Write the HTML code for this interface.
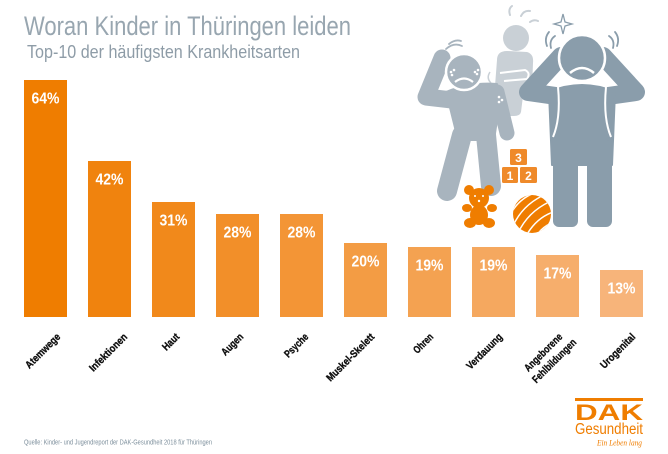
<!DOCTYPE html>
<html><head><meta charset="utf-8"><style>
html,body{margin:0;padding:0;background:#fff;}
svg{display:block;}
</style></head><body>
<svg width="668" height="454" viewBox="0 0 668 454" xmlns="http://www.w3.org/2000/svg">
<rect width="668" height="454" fill="#fff"/>
<!-- Title -->
<text x="24" y="35" font-family="Liberation Sans, sans-serif" font-size="27" fill="#98a6b0" textLength="327" lengthAdjust="spacingAndGlyphs">Woran Kinder in Thüringen leiden</text>
<text x="27" y="58" font-family="Liberation Sans, sans-serif" font-size="18" fill="#8e9ca7" textLength="273" lengthAdjust="spacingAndGlyphs">Top-10 der häufigsten Krankheitsarten</text>

<!-- Illustration -->
<g>
  <!-- middle figure -->
  <g fill="#c9d0d6">
    <circle cx="516" cy="38" r="13"/>
    <path d="M497,60 Q497,51 507,51 L527,52 Q534,54 533,63 L532,88 Q530,95 523,96 L521,112 Q520,116 514,116 L507,116 Q502,115 502,110 L500,96 Q495,92 495,86 Z"/>
  </g>
  <path d="M500,73 L525,70 Q531,73 527,79 L504,81" fill="none" stroke="#fff" stroke-width="2"/>
  <path d="M510,15 Q508,9 512,6 M521,16 Q524,10 530,11 M530,22 Q534,19 538,21" fill="none" stroke="#c9d0d6" stroke-width="2" stroke-linecap="round"/>
  <path d="M490,72 Q486,78 491,83" fill="none" stroke="#c9d0d6" stroke-width="1.5"/>

  <!-- left figure -->
  <g fill="#a8b4be" stroke="#a8b4be" stroke-linecap="round" stroke-linejoin="round">
    <path d="M452,100 L426,97 L442,58" fill="none" stroke-width="17"/>
    <path d="M497,92 L507,133" fill="none" stroke-width="15"/>
    <path d="M446,92 Q470,82 497,84 L500,100 Q497,120 494,140 L458,140 Q452,115 446,92 Z" stroke-width="2"/>
    <path d="M462,135 L447,191" fill="none" stroke-width="20"/>
    <path d="M486,135 L491,186" fill="none" stroke-width="20"/>
  </g>
  <circle cx="464" cy="72" r="18" fill="#a8b4be" stroke="#fff" stroke-width="2.5"/>
  <path d="M455,82 Q464,75 473,82" fill="none" stroke="#fff" stroke-width="2.2"/>
  <g fill="#fff"><circle cx="451" cy="72" r="1.3"/><circle cx="454" cy="70" r="1.3"/><circle cx="452" cy="75" r="1.3"/><circle cx="475" cy="72" r="1.3"/><circle cx="478" cy="70" r="1.3"/><circle cx="477" cy="74" r="1.3"/><circle cx="499" cy="97" r="1.3"/><circle cx="502" cy="100" r="1.3"/><circle cx="499" cy="102" r="1.3"/></g>
  <path d="M446,49 Q454,42 462,46 M449,44 Q455,39 461,41" fill="none" stroke="#a8b4be" stroke-width="1.8" stroke-linecap="round"/>

  <!-- right figure -->
  <g fill="#8a9dab" stroke="#8a9dab" stroke-linecap="round" stroke-linejoin="round">
    <path d="M556,96 L528,92 L561,56" fill="none" stroke-width="18"/>
    <path d="M608,96 L636,92 L603,56" fill="none" stroke-width="18"/>
    <path d="M549,92 Q582,78 615,92 L612,165 L552,165 Z" stroke-width="2"/>
    <rect x="553" y="140" width="25" height="87" rx="6" stroke="none"/>
    <rect x="587" y="140" width="25" height="87" rx="6" stroke="none"/>
  </g>
  <circle cx="582" cy="58" r="23" fill="#8a9dab" stroke="#fff" stroke-width="2.5"/>
  <path d="M570,73 Q582,63 594,73" fill="none" stroke="#fff" stroke-width="2.5"/>
  <path d="M558,87 Q561,118 553,137 M606,87 Q603,118 611,137" fill="none" stroke="#fff" stroke-width="2"/>
  <path d="M551,48 Q549,40 555,36 M547,46 Q544,38 549,32 M613,48 Q615,40 609,36 M617,46 Q620,38 615,32" fill="none" stroke="#8a9dab" stroke-width="1.8" stroke-linecap="round"/>
  <path d="M563,14 L565,22 L572,24 L565,26 L563,34 L561,26 L554,24 L561,22 Z" fill="none" stroke="#8a9dab" stroke-width="1.3"/>

  <!-- blocks -->
  <g fill="#ef8a2a">
    <rect x="510" y="149" width="17" height="16" rx="1.5"/>
    <rect x="502" y="167" width="16" height="16" rx="1.5"/>
    <rect x="520" y="167" width="17" height="16" rx="1.5"/>
  </g>
  <g font-family="Liberation Sans, sans-serif" font-weight="bold" font-size="12" fill="#fff" text-anchor="middle">
    <text x="518.5" y="162">3</text><text x="510" y="180">1</text><text x="528.5" y="180">2</text>
  </g>

  <!-- teddy -->
  <g fill="#ef7d00">
    <circle cx="469" cy="190" r="5"/><circle cx="489" cy="190" r="5"/>
    <circle cx="479" cy="198" r="10"/>
    <ellipse cx="479" cy="215" rx="9" ry="10"/>
    <ellipse cx="467" cy="208" rx="5" ry="4"/><ellipse cx="492" cy="208" rx="5" ry="4"/>
    <ellipse cx="470" cy="223" rx="6" ry="5"/><ellipse cx="489" cy="223" rx="6" ry="5"/>
  </g>
  <g fill="#fff"><circle cx="475" cy="196" r="1"/><circle cx="483" cy="196" r="1"/><circle cx="479" cy="201" r="1.2"/></g>

  <!-- ball -->
  <clipPath id="bc"><circle cx="532" cy="214" r="19"/></clipPath>
  <circle cx="532" cy="214" r="19" fill="#ef7d00"/>
  <g clip-path="url(#bc)" fill="none" stroke="#fff" stroke-width="1.5">
    <path d="M510,215 Q518,200 532,194"/>
    <path d="M513,226 Q522,206 542,196"/>
    <path d="M518,233 Q528,212 549,202"/>
    <path d="M526,236 Q536,218 553,212"/>
    <path d="M536,236 Q543,226 554,222"/>
  </g>
</g>

<!-- Bars -->
<g>
  <rect x="24" y="80" width="43" height="237" fill="#EF7D00"/>
  <rect x="88" y="161" width="43" height="156" fill="#F0830E"/>
  <rect x="152" y="202" width="43" height="115" fill="#F1891B"/>
  <rect x="216" y="214" width="43" height="103" fill="#F28F29"/>
  <rect x="280" y="214" width="43" height="103" fill="#F39536"/>
  <rect x="344" y="243" width="43" height="74" fill="#F39C44"/>
  <rect x="408" y="247" width="43" height="70" fill="#F4A251"/>
  <rect x="472" y="247" width="43" height="70" fill="#F5A85F"/>
  <rect x="536" y="255" width="43" height="62" fill="#F6AE6C"/>
  <rect x="600" y="270" width="43" height="47" fill="#F7B47A"/>
</g>
<g font-family="Liberation Sans, sans-serif" font-weight="bold" font-size="16" fill="#fff" text-anchor="middle">
  <text x="45.5" y="103.5" textLength="28" lengthAdjust="spacingAndGlyphs">64%</text>
  <text x="109.5" y="184.5" textLength="28" lengthAdjust="spacingAndGlyphs">42%</text>
  <text x="173.5" y="225.5" textLength="28" lengthAdjust="spacingAndGlyphs">31%</text>
  <text x="237.5" y="237.5" textLength="28" lengthAdjust="spacingAndGlyphs">28%</text>
  <text x="301.5" y="237.5" textLength="28" lengthAdjust="spacingAndGlyphs">28%</text>
  <text x="365.5" y="266.5" textLength="28" lengthAdjust="spacingAndGlyphs">20%</text>
  <text x="429.5" y="270.5" textLength="28" lengthAdjust="spacingAndGlyphs">19%</text>
  <text x="493.5" y="270.5" textLength="28" lengthAdjust="spacingAndGlyphs">19%</text>
  <text x="557.5" y="278.5" textLength="28" lengthAdjust="spacingAndGlyphs">17%</text>
  <text x="621.5" y="293.5" textLength="28" lengthAdjust="spacingAndGlyphs">13%</text>
</g>

<!-- Category labels -->
<g font-family="Liberation Sans, sans-serif" font-weight="bold" font-size="10.5" fill="#111" stroke="#111" stroke-width="0.35" text-anchor="end">
  <text transform="translate(61,337.5) rotate(-45)" textLength="44.7" lengthAdjust="spacingAndGlyphs">Atemwege</text>
  <text transform="translate(128,337.5) rotate(-45)" textLength="49" lengthAdjust="spacingAndGlyphs">Infektionen</text>
  <text transform="translate(180,337.5) rotate(-45)" textLength="19.3" lengthAdjust="spacingAndGlyphs">Haut</text>
  <text transform="translate(244,337.5) rotate(-45)" textLength="26.3" lengthAdjust="spacingAndGlyphs">Augen</text>
  <text transform="translate(309,337.5) rotate(-45)" textLength="29.2" lengthAdjust="spacingAndGlyphs">Psyche</text>
  <text transform="translate(375,337.5) rotate(-45)" textLength="63" lengthAdjust="spacingAndGlyphs">Muskel-Skelett</text>
  <text transform="translate(434,337.5) rotate(-45)" textLength="23.5" lengthAdjust="spacingAndGlyphs">Ohren</text>
  <text transform="translate(503,337.5) rotate(-45)" textLength="46" lengthAdjust="spacingAndGlyphs">Verdauung</text>
  <text transform="translate(563,337.5) rotate(-45)" textLength="49" lengthAdjust="spacingAndGlyphs">Angeborene</text>
  <text transform="translate(577,343) rotate(-45)" textLength="57.5" lengthAdjust="spacingAndGlyphs">Fehlbildungen</text>
  <text transform="translate(636,337.5) rotate(-45)" textLength="44.7" lengthAdjust="spacingAndGlyphs">Urogenital</text>
</g>

<!-- Source -->
<text x="24" y="444.5" font-family="Liberation Sans, sans-serif" font-size="7" fill="#7d8f9c" textLength="188" lengthAdjust="spacingAndGlyphs">Quelle: Kinder- und Jugendreport der DAK-Gesundheit 2018 für Thüringen</text>

<!-- DAK logo -->
<rect x="575" y="398" width="68" height="3" fill="#ef7d00"/>
<text x="575" y="420" font-family="Liberation Sans, sans-serif" font-weight="bold" font-size="22" fill="#ef7d00" textLength="68" lengthAdjust="spacingAndGlyphs">DAK</text>
<text x="575" y="434" font-family="Liberation Sans, sans-serif" font-size="15.5" fill="#ef7d00" textLength="68" lengthAdjust="spacingAndGlyphs">Gesundheit</text>
<text x="597" y="445.5" font-family="Liberation Serif, serif" font-style="italic" font-size="8" fill="#ef7d00" textLength="45" lengthAdjust="spacingAndGlyphs">Ein Leben lang</text>
</svg>
</body></html>
